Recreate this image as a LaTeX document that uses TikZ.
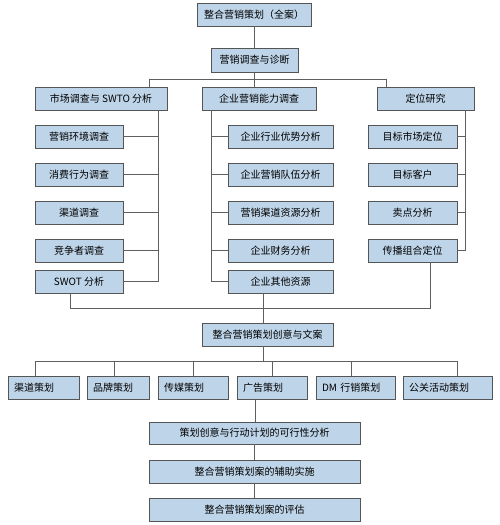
\documentclass[tikz,border=0pt]{standalone}
\usepackage{fontspec}
\setmainfont{Noto Sans CJK SC}
\definecolor{boxfill}{RGB}{190,212,232}
\definecolor{boxline}{RGB}{85,85,85}
\definecolor{conn}{RGB}{95,95,95}
\begin{document}
\begin{tikzpicture}[x=1pt,y=-1pt,
  box/.style={draw=boxline,fill=boxfill,line width=0.9pt,inner sep=0pt,outer sep=0pt,
    minimum height=23pt,font=\fontsize{10}{11}\selectfont},
  lbox/.style={box,align=left,text width=#1,inner xsep=6pt},
  wire/.style={draw=conn,line width=0.8pt}]
\useasboundingbox (0,0) rectangle (500,525);
% top
\node[box,minimum width=114pt] (top) at (254,14.5) {整合营销策划（全案）};
\node[box,minimum width=87pt,minimum height=24pt] (diag) at (254.5,60) {营销调查与诊断};
\node[box,minimum width=132pt] (m1) at (101,98.5) {市场调查与 SWTO 分析};
\node[box,minimum width=114pt] (m2) at (259,98.5) {企业营销能力调查};
\node[box,minimum width=97pt] (m3) at (425.5,98.5) {定位研究};
% left column
\node[box,minimum width=88pt] (l1) at (79,136.5) {营销环境调查};
\node[box,minimum width=88pt] (l2) at (79,174.5) {消费行为调查};
\node[box,minimum width=88pt] (l3) at (79,212.5) {渠道调查};
\node[box,minimum width=88pt] (l4) at (79,250.5) {竞争者调查};
\node[box,minimum width=88pt] (l5) at (79,281.5) {SWOT 分析};
% middle column
\node[box,minimum width=105pt] (c1) at (280.5,136.5) {企业行业优势分析};
\node[box,minimum width=105pt] (c2) at (280.5,174.5) {企业营销队伍分析};
\node[box,minimum width=105pt] (c3) at (280.5,212.5) {营销渠道资源分析};
\node[box,minimum width=105pt] (c4) at (280.5,250.5) {企业财务分析};
\node[box,minimum width=105pt] (c5) at (280.5,281.5) {企业其他资源};
% right column
\node[box,minimum width=89pt] (r1) at (412.5,136.5) {目标市场定位};
\node[box,minimum width=89pt] (r2) at (412.5,174.5) {目标客户};
\node[box,minimum width=89pt] (r3) at (412.5,212.5) {卖点分析};
\node[box,minimum width=89pt] (r4) at (412.5,250.5) {传播组合定位};
% creative
\node[box,minimum width=131pt] (cre) at (267.5,334.5) {整合营销策划创意与文案};
% bottom row
\node[lbox=59pt,minimum width=71pt] (b1) at (43.5,387.5) {渠道策划};
\node[lbox=50pt,minimum width=62pt] (b2) at (118,387.5) {品牌策划};
\node[lbox=58pt,minimum width=70pt] (b3) at (193,387.5) {传媒策划};
\node[lbox=58pt,minimum width=70pt] (b4) at (272,387.5) {广告策划};
\node[lbox=67pt,minimum width=79pt] (b5) at (355.5,387.5) {DM 行销策划};
\node[lbox=77pt,minimum width=89pt] (b6) at (447.5,387.5) {公关活动策划};
% final
\node[box,minimum width=211pt,minimum height=22pt] (f1) at (254.5,433) {策划创意与行动计划的可行性分析};
\node[box,minimum width=211pt] (f2) at (254.5,471.5) {整合营销策划案的辅助实施};
\node[box,minimum width=211pt] (f3) at (254.5,509.5) {整合营销策划案的评估};
% bus coordinates
\coordinate (busA) at (0,79);
\coordinate (vL) at (158,0);
\coordinate (vM) at (211,0);
\coordinate (vR) at (465,0);
\coordinate (busB) at (0,308);
\coordinate (busC) at (0,361);
% drop points
\coordinate (m1d) at ([xshift=48pt]m1.north);
\coordinate (m3d) at ([xshift=-39.5pt]m3.north);
\coordinate (l5d) at ([xshift=-9pt]l5.south);
\coordinate (r4d) at ([xshift=17.5pt]r4.south);
\coordinate (c5d) at ([xshift=-17.5pt]c5.south);
\coordinate (cred) at ([xshift=-4.5pt]cre.south);
\coordinate (b1d) at ([xshift=-8.5pt]b1.north);
\coordinate (b2d) at ([xshift=-4pt]b2.north);
\coordinate (b5d) at ([xshift=-4.5pt]b5.north);
\coordinate (b6d) at ([xshift=9.5pt]b6.north);
\coordinate (b4d) at ([xshift=-17pt]b4.south);
% connectors
\path[wire] (top.south -| diag.north) -- (diag.north);
\path[wire] ([xshift=-0.5pt]diag.south) -- ([xshift=-0.5pt]diag.south |- m2.north);
\path[wire] (m1d) |- (busA -| m3d) -- (m3d);
% left bus
\path[wire] (m1.south -| vL) -- (l5.east -| vL);
\foreach \n in {l1,l2,l3,l4,l5} \path[wire] (\n.east) -- (\n.east -| vL);
% middle bus
\path[wire] (m2.south -| vM) -- (c5.west -| vM);
\foreach \n in {c1,c2,c3,c4,c5} \path[wire] (\n.west) -- (\n.west -| vM);
% right bus
\path[wire] (m3.south -| vR) -- (r4.east -| vR);
\foreach \n in {r1,r2,r3,r4} \path[wire] (\n.east) -- (\n.east -| vR);
% to creative
\path[wire] (l5d) |- (busB -| r4d) -- (r4d);
\path[wire] (c5d) -- (c5d |- cre.north);
% creative to bottom row
\path[wire] (cred) -- (cred |- busC);
\path[wire] (b1d) |- (busC -| b6d) -- (b6d);
\path[wire] (b2d) -- (b2d |- busC);
\path[wire] (b3.north) -- (b3.north |- busC);
\path[wire] (b4.north) -- (b4.north |- busC);
\path[wire] (b5d) -- (b5d |- busC);
% down chain
\path[wire] (b4d) -- (b4d |- f1.north);
\path[wire] (f1.south) -- (f2.north);
\path[wire] (f2.south) -- (f3.north);
\end{tikzpicture}
\end{document}
